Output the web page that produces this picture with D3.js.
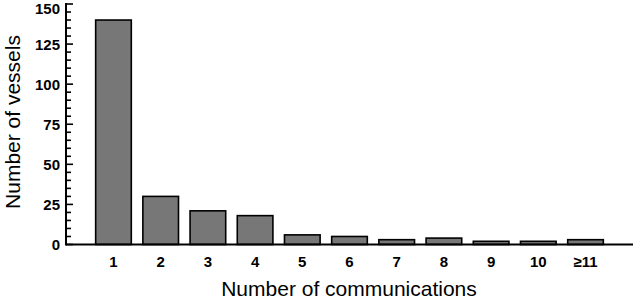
<!DOCTYPE html>
<html>
<script src="https://d3js.org/d3.v7.min.js"></script>

<head>
    <style>
        body {
            margin: 0;
            background-color: white;
            font-family: "Liberation Sans", Arial, Helvetica, sans-serif;
        }

        svg {
            display: block;
        }
    </style>
</head>

<body>
    <svg width="633" height="301"></svg>
</body>
<script>
    const width = 633,
        height = 301;
    const svg = d3.select("svg");

    const CATEGORIES = ["1", "2", "3", "4", "5", "6", "7", "8", "9", "10", "\u226511"];
    const VESSELS = [140, 30, 21, 18, 6, 5, 3, 4, 2, 2, 3];
    const Y_TICKS = [0, 25, 50, 75, 100, 125, 150];

    function draw() {
        const axisX = 66,
            axisY = 244.5;

        const xScale = d3.scaleBand()
            .domain(CATEGORIES)
            .range([90, 609])
            .paddingInner(0.245)
            .paddingOuter(0.12);
        const yScale = d3.scaleLinear().domain([0, 150]).range([axisY, 4]);

        // bars
        svg.selectAll("rect.bar")
            .data(CATEGORIES)
            .enter()
            .append("rect")
            .attr("class", "bar")
            .attr("x", d => xScale(d))
            .attr("width", xScale.bandwidth())
            .attr("y", (d, i) => yScale(VESSELS[i]))
            .attr("height", (d, i) => yScale(0) - yScale(VESSELS[i]))
            .attr("fill", "#777777")
            .attr("stroke", "black")
            .attr("stroke-width", 1.6);

        // y axis, ticks inside
        const minor = d3.range(0, 151, 5);
        svg.selectAll("line.ytick")
            .data(minor)
            .enter()
            .append("line")
            .attr("stroke", "black")
            .attr("stroke-width", 1.6)
            .attr("x1", axisX)
            .attr("x2", d => axisX + (d % 25 == 0 ? 7 : 5))
            .attr("y1", d => yScale(d))
            .attr("y2", d => yScale(d));
        svg.append("line")
            .attr("stroke", "black")
            .attr("stroke-width", 2)
            .attr("x1", axisX)
            .attr("x2", axisX)
            .attr("y1", yScale(150) - 1)
            .attr("y2", axisY + 1);
        svg.selectAll("text.ylab")
            .data(Y_TICKS)
            .enter()
            .append("text")
            .attr("text-anchor", "end")
            .attr("dominant-baseline", "central")
            .attr("x", axisX - 6)
            // top label would run off the edge
            .attr("y", d => Math.max(yScale(d), 8))
            .attr("font-size", "15px")
            .attr("font-weight", "bold")
            .text(d => d);

        // x axis
        svg.append("line")
            .attr("stroke", "black")
            .attr("stroke-width", 2)
            .attr("x1", axisX)
            .attr("x2", width)
            .attr("y1", axisY)
            .attr("y2", axisY);
        svg.selectAll("text.xlab")
            .data(CATEGORIES)
            .enter()
            .append("text")
            .attr("text-anchor", "middle")
            .attr("x", d => xScale(d) + xScale.bandwidth() / 2)
            .attr("y", 267)
            .attr("font-size", "15px")
            .attr("font-weight", "bold")
            .text(d => d);

        // titles
        svg.append("text")
            .attr("text-anchor", "middle")
            .attr("x", 349)
            .attr("y", 296)
            .attr("font-size", "21px")
            .text("Number of communications");
        svg.append("text")
            .attr("text-anchor", "middle")
            .attr("transform", "translate(20,122) rotate(-90)")
            .attr("font-size", "21px")
            .text("Number of vessels");
    }

    draw();
</script>

</html>
